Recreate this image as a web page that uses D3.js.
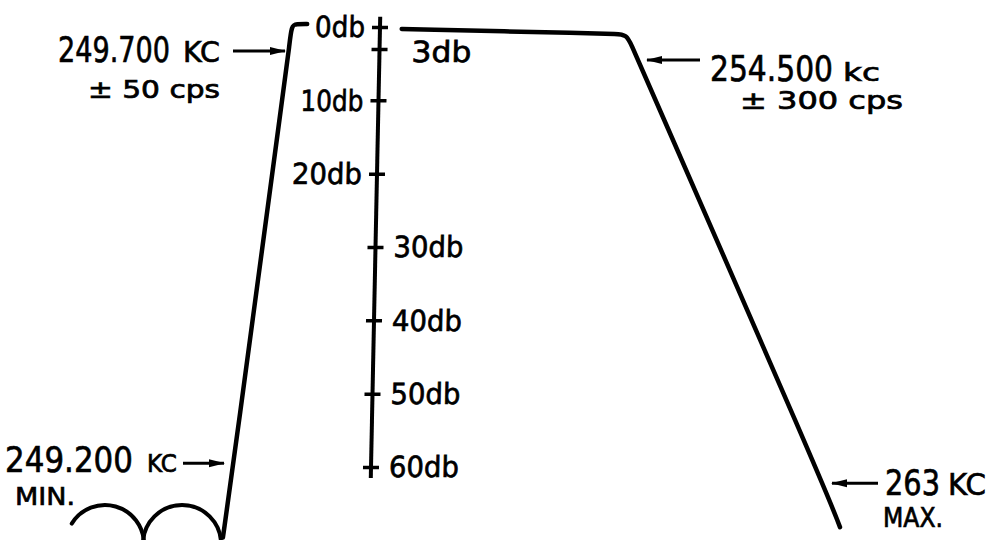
<!DOCTYPE html>
<html>
<head>
<meta charset="utf-8">
<script src="https://cdn.jsdelivr.net/npm/d3@7"></script>
<style>
  body { margin: 0; background: #fff; }
  svg { display: block; font-family: 'DejaVu Sans', sans-serif; }
  svg text { fill: #000; stroke: #000; stroke-width: 0.7px; }
</style>
</head>
<body>
<div class="graph-container"></div>
<script>
var svgWidth = 991;
var svgHeight = 540;

// attenuation scale ticks (db); these get their label on the left side
var dbTicks = [0, 3, 10, 20, 30, 40, 50, 60];
var dbLeftLabels = [0, 10, 20];

// frequencies (kc) called out with arrows, and the db level the arrow points at
var markFreqs = [249.2, 249.7, 254.5, 263];
var markDb = [59.5, 3, 4.5, 62.2];
var markNumbers = ['249.200', '249.700', '254.500', '263'];
var markUnits = ['KC', 'KC', 'kc', 'KC'];
var markSubLabels = ['MIN.', '\u00b1 50 cps', '\u00b1 300 cps', 'MAX.'];

// response curve (kc, db) - low side and high side
var lowSideKc = [249.11, 249.2, 249.68, 249.7, 249.735, 249.8, 249.95];
var lowSideDb = [69.6, 60, 5.2, 3, -0.3, -0.4, -0.4];
var highSideKc = [251.25, 253.98, 254.18, 254.345, 254.417, 254.5, 263, 263.78];
var highSideDb = [0.27, 0.89, 0.94, 0.98, 2.66, 4.5, 62.2, 68.2];

// the two humps under the low skirt
var humpKc = [248.057, 248.745];
var humpDb = [70.5, 70.5];

// squeeze a text horizontally so it is exactly `w` wide (hand lettering is narrow)
function squeeze(sel, xFn, yFn, wFn) {
  sel.each(function(d, i) {
    var node = this;
    var natural = node.getComputedTextLength();
    var s = wFn(d, i) / natural;
    d3.select(node)
      .attr('x', 0)
      .attr('y', 0)
      .attr('transform', 'translate(' + xFn(d, i) + ',' + yFn(d, i) + ') scale(' + s + ',1)');
  });
}

function drawChart() {
  var svg = d3.select('.graph-container').append('svg')
    .attr('width', svgWidth)
    .attr('height', svgHeight);

  // frequency axis is not linear on the drawing, so use a piecewise scale
  var xScale = d3.scaleLinear()
    .domain(markFreqs)
    .range([233, 289, 638, 823]);

  var yScale = d3.scaleLinear()
    .domain([0, 60])
    .range([27, 467]);

  svg.append('defs').append('marker')
    .attr('id', 'arrowhead')
    .attr('markerUnits', 'userSpaceOnUse')
    .attr('viewBox', '0 0 16 10')
    .attr('refX', 15)
    .attr('refY', 5)
    .attr('markerWidth', 16)
    .attr('markerHeight', 10)
    .attr('orient', 'auto')
    .append('path')
    .attr('d', 'M0,1 L16,5 L0,9 Z')
    .attr('fill', '#000');

  var line = d3.line()
    .x(function(d) { return xScale(d[0]); })
    .y(function(d) { return yScale(d[1]); })
    .curve(d3.curveBasis);

  var lowSide = lowSideKc.map(function(k, i) { return [k, lowSideDb[i]]; });
  var highSide = highSideKc.map(function(k, i) { return [k, highSideDb[i]]; });

  svg.selectAll('.response')
    .data([lowSide, highSide])
    .enter()
    .append('path')
    .attr('class', 'response')
    .attr('d', line)
    .attr('fill', 'none')
    .attr('stroke', '#000')
    .attr('stroke-width', 4.5)
    .attr('stroke-linecap', 'round')
    .attr('stroke-linejoin', 'round');

  // humps
  svg.selectAll('.hump')
    .data(humpKc)
    .enter()
    .append('path')
    .attr('class', 'hump')
    .attr('d', function(k, i) {
      var p = d3.path();
      var start = i === 0 ? Math.PI + 0.55 : Math.PI;
      var cx = xScale(k), cy = yScale(humpDb[i]), r = 39;
      p.moveTo(cx + r * Math.cos(start), cy + r * Math.sin(start));
      p.arc(cx, cy, r, start, 2 * Math.PI);
      return p.toString();
    })
    .attr('fill', 'none')
    .attr('stroke', '#000')
    .attr('stroke-width', 4)
    .attr('stroke-linecap', 'round');

  // db axis, drawn slightly leaning like the original
  var yAxis = d3.axisRight(yScale)
    .tickValues(dbTicks)
    .tickSize(0)
    .tickFormat(function(d) { return d + 'db'; });

  var axisG = svg.append('g')
    .attr('transform', 'translate(380.55,0) skewX(-1.17)')
    .call(yAxis);

  axisG.select('.domain').remove();
  axisG.append('line')
    .attr('x1', 0).attr('x2', 0)
    .attr('y1', yScale(-1.4))
    .attr('y2', yScale(61.5))
    .attr('stroke', '#000')
    .attr('stroke-width', 4);

  axisG.selectAll('.tick line')
    .attr('x1', -8)
    .attr('x2', 8)
    .attr('stroke', '#000')
    .attr('stroke-width', 3.5);

  function labelWidth(d) {
    if (d === 0) return 50;
    if (d === 3) return 60;
    if (d === 10) return 63;
    return 70;
  }

  axisG.selectAll('.tick text')
    .style('font-size', '29px')
    .style('font-family', "'DejaVu Sans', sans-serif")
    .attr('text-anchor', function(d) { return dbLeftLabels.indexOf(d) >= 0 ? 'end' : 'start'; })
    .attr('textLength', labelWidth)
    .attr('lengthAdjust', 'spacingAndGlyphs')
    .attr('x', function(d) {
      if (dbLeftLabels.indexOf(d) >= 0) return -15;
      return d === 3 ? 32 : 18;
    })
    .attr('dy', function(d) { return d === 3 ? '0.42em' : '0.34em'; });

  // arrow call-outs, offsets are relative to the arrow tip
  var layout = [
    { tipDx: -9, tipDy: 0, tail: -41, textDy: 9, numX: -219, numW: 128, unitX: -77, unitW: 30, unitSize: 24, subX: -209, subDy: 42, subW: 60, subSize: 25 },
    { tipDx: -4, tipDy: 2, tail: -52, textDy: 11, numX: -227, numW: 112, unitX: -102, unitW: 37, unitSize: 28, subX: -197, subDy: 47, subW: 132, subSize: 24 },
    { tipDx: 9, tipDy: 0, tail: 53, textDy: 21, numX: 63, numW: 123, unitX: 196, unitW: 37, unitSize: 25, subX: 93, subDy: 49, subW: 163, subSize: 24 },
    { tipDx: 9, tipDy: 0, tail: 46, textDy: 12, numX: 53, numW: 55, unitX: 116, unitW: 38, unitSize: 30, subX: 51, subDy: 44, subW: 60, subSize: 26 }
  ];

  var marks = svg.selectAll('.mark')
    .data(markFreqs)
    .enter()
    .append('g')
    .attr('class', 'mark')
    .attr('transform', function(k, i) {
      return 'translate(' + (xScale(k) + layout[i].tipDx) + ',' + (yScale(markDb[i]) + layout[i].tipDy) + ')';
    });

  marks.append('line')
    .attr('x1', function(k, i) { return layout[i].tail; })
    .attr('x2', 0)
    .attr('y1', 0)
    .attr('y2', 0)
    .attr('stroke', '#000')
    .attr('stroke-width', 3)
    .attr('marker-end', 'url(#arrowhead)');

  var textDy = function(k, i) { return layout[i].textDy; };

  var numbers = marks.append('text')
    .style('font-size', '36px')
    .text(function(k, i) { return markNumbers[i]; });
  squeeze(numbers, function(k, i) { return layout[i].numX; }, textDy,
    function(k, i) { return layout[i].numW; });

  var units = marks.append('text')
    .style('font-size', function(k, i) { return layout[i].unitSize + 'px'; })
    .text(function(k, i) { return markUnits[i]; });
  squeeze(units, function(k, i) { return layout[i].unitX; }, textDy,
    function(k, i) { return layout[i].unitW; });

  var subs = marks.append('text')
    .style('font-size', function(k, i) { return layout[i].subSize + 'px'; })
    .text(function(k, i) { return markSubLabels[i]; });
  squeeze(subs, function(k, i) { return layout[i].subX; },
    function(k, i) { return layout[i].subDy; },
    function(k, i) { return layout[i].subW; });
}

drawChart();
</script>
</body>
</html>
